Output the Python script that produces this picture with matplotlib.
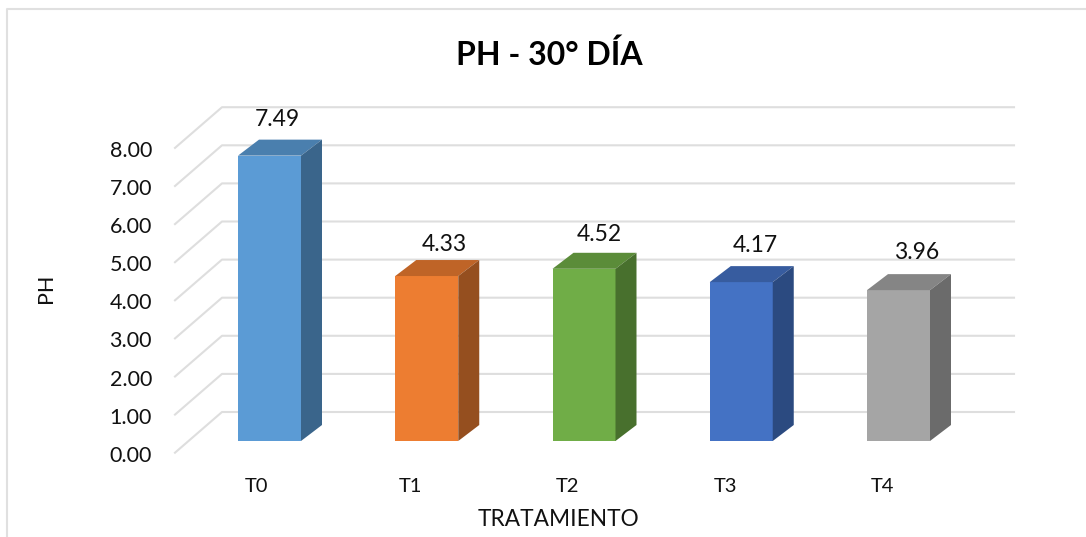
import matplotlib
matplotlib.use('Agg')
import matplotlib.pyplot as plt
from matplotlib.patches import Polygon

plt.rcParams['font.family'] = ['Lato', 'DejaVu Sans']

categorias = ['T0', 'T1', 'T2', 'T3', 'T4']
valores = [7.49, 4.33, 4.52, 4.17, 3.96]
ticks = [0, 1, 2, 3, 4, 5, 6, 7, 8]
colores = ['#5B9BD5', '#ED7D31', '#70AD47', '#4472C4', '#A5A5A5']
colores_top = ['#4A7FAE', '#BF6427', '#5B8C39', '#375C9F', '#858585']
colores_lado = ['#3A658B', '#954F1F', '#48702D', '#2B4A80', '#6B6B6B']

# ajustes a mano de las etiquetas, en pixeles
etq_dx = [8, 18, 15, 14, 18]
etq_dy = [20, 16, 18, 21, 22]
cat_dx = [-13, -16, -16, -16, -16]

W, H = 1086, 537
fig = plt.figure(figsize=(W / 100, H / 100), dpi=100)
ax = fig.add_axes([0, 0, 1, 1])
ax.set_axis_off()

# escala: categoria i -> pixel 269.5 + 157.25*i, valor v -> pixel 441 - 38.1*v
px_cat = 157.25
px_val = 38.1
ax.set_xlim(-269.5 / px_cat, (W - 269.5) / px_cat)
ax.set_ylim((441 - H) / px_val, 441 / px_val)

ancho = 63 / px_cat
dx_bar = 21 / px_cat
dy_bar = 16 / px_val

# piso / rejilla, desplazados respecto al plano de las barras
x_front = (175 - 269.5) / px_cat
x_back = (222 - 269.5) / px_cat
x_fin = (1014 - 269.5) / px_cat
y_front = -11.7 / px_val
y_back = 29 / px_val
for t in ticks:
    ax.plot([x_front, x_back, x_fin], [t + y_front, t + y_back, t + y_back],
            color='#DEDEDE', lw=1.5, zorder=1)
    ax.text((152 - 269.5) / px_cat, t + y_front - 3 / px_val, f'{t:.2f}', ha='right', va='center',
            fontsize=15.5, color='#111111')

for i, v in enumerate(valores):
    l, r = i - ancho / 2, i + ancho / 2
    ax.add_patch(Polygon([(l, 0), (r, 0), (r, v), (l, v)], fc=colores[i], ec='none', zorder=3))
    ax.add_patch(Polygon([(l, v), (r, v), (r + dx_bar, v + dy_bar), (l + dx_bar, v + dy_bar)],
                         fc=colores_top[i], ec='none', zorder=3))
    ax.add_patch(Polygon([(r, 0), (r + dx_bar, dy_bar), (r + dx_bar, v + dy_bar), (r, v)],
                         fc=colores_lado[i], ec='none', zorder=3))
    ax.text(i + etq_dx[i] / px_cat, v + dy_bar + etq_dy[i] / px_val, f'{v:.2f}', ha='center', va='center',
            fontsize=16.5, color='#111111', zorder=4)
    ax.text(i + cat_dx[i] / px_cat, -46 / px_val, categorias[i], ha='center', va='center',
            fontsize=14.5, color='#111111')

ax.text((559 - 269.5) / px_cat, -79 / px_val, 'TRATAMIENTO', ha='center', va='center',
        fontsize=16.3, color='#111111')
ax.text((46 - 269.5) / px_cat, 153 / px_val, 'PH', ha='center', va='center', rotation=90,
        fontsize=15.5, color='#111111')
ax.text((549 - 269.5) / px_cat, 386 / px_val, 'PH - 30° DÍA', ha='center', va='center',
        fontsize=23, fontweight='bold', color='black')

# borde del grafico
x0, x1 = (7 - 269.5) / px_cat, W / px_cat
ytop, ybot = (441 - 9) / px_val, (441 - H) / px_val
ax.plot([x0, x0, x1], [ybot, ytop, ytop], color='#E0E0E0', lw=1.5, zorder=1)

fig.savefig('out.png', dpi=100)
